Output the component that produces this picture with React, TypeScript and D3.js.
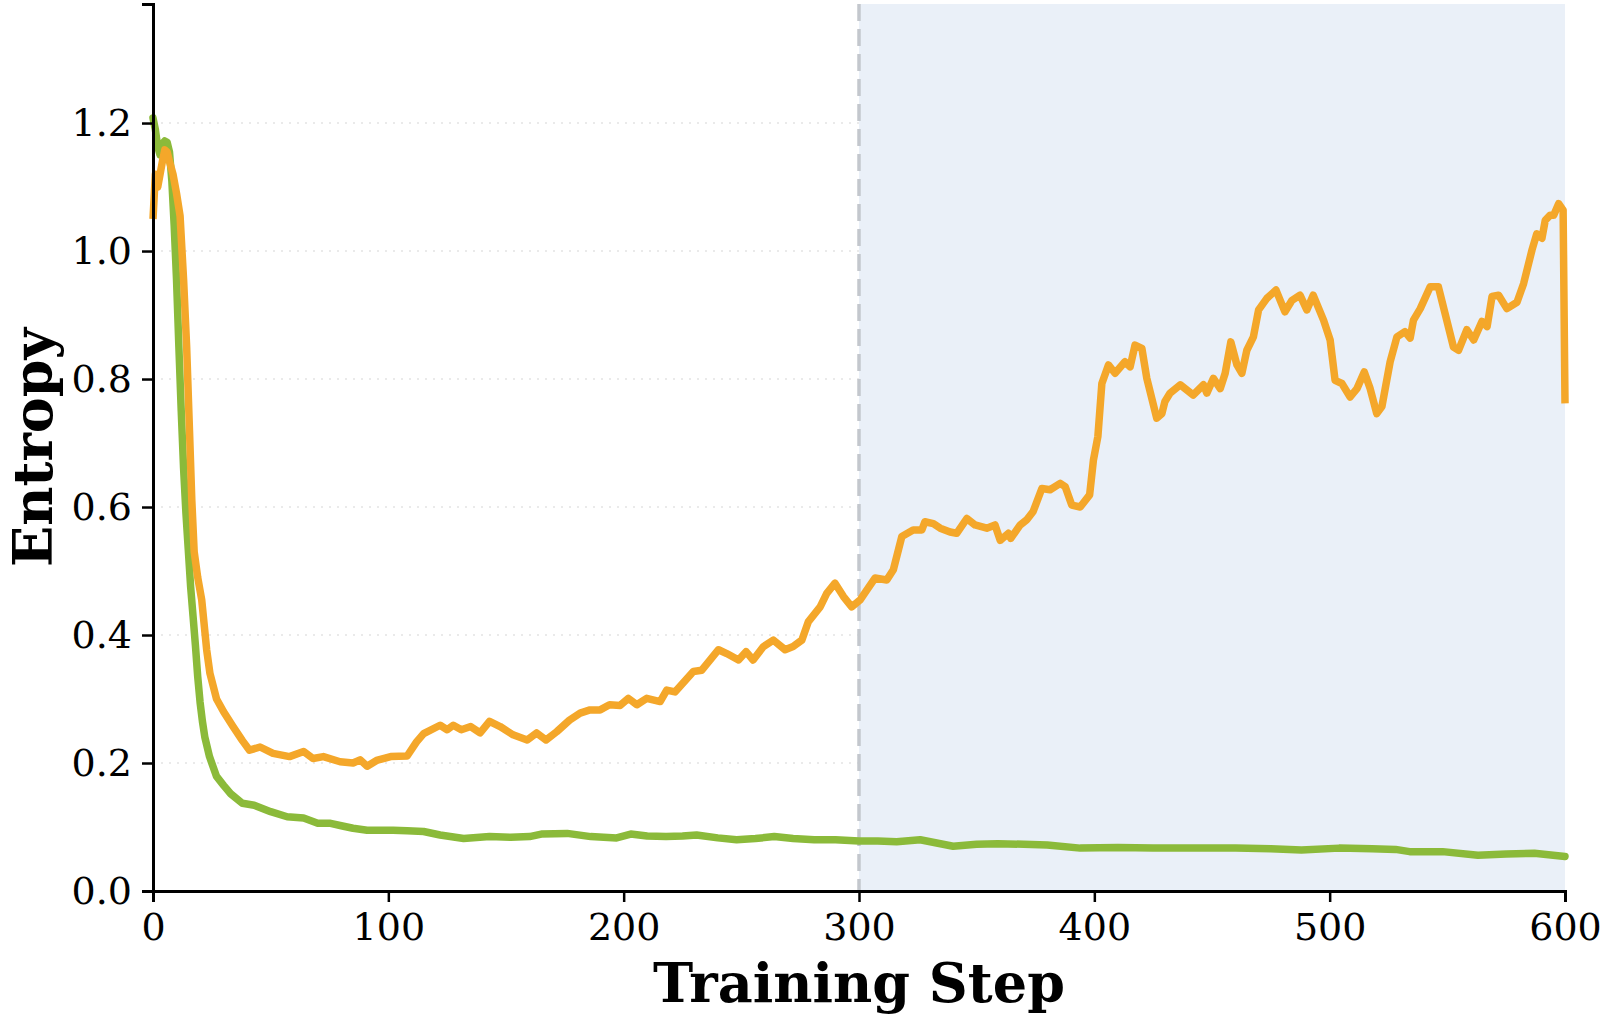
import { useEffect, useRef } from 'react'
import * as d3 from 'd3'

// step / entropy readings for the two runs
const orangeSteps = [0, 1, 2, 3, 4, 5, 6, 7, 8.5, 10, 11.5, 13, 14.3, 15.5, 16.5, 17.5, 19, 20.7, 22.8, 24.2, 27, 30, 34, 38, 41, 45.5, 51, 58, 64, 68, 72.4, 79.5, 85, 88, 91, 95, 101, 108, 112, 115, 122, 125, 127.6, 131, 135, 139, 143, 147.5, 153, 159, 163, 167, 171.6, 177, 181.5, 185.7, 190, 194, 198.5, 202, 205.6, 209.8, 215.5, 218.3, 221.8, 229.6, 233.2, 240.3, 243.8, 248.8, 252, 255, 259.4, 263.6, 268.6, 272, 275.7, 278.5, 283.5, 286.3, 289.8, 293.4, 296.9, 300.5, 303.3, 306.8, 311.8, 314.6, 318.2, 323, 326.7, 328, 331.6, 334.5, 338.7, 341.5, 345.8, 349.3, 354.3, 357.8, 360, 363.5, 364.5, 368.5, 371.3, 374, 377.7, 381.2, 385.5, 387.6, 390.4, 394, 398, 399.6, 401.5, 403.2, 406, 408.8, 413, 415.2, 417.3, 420.2, 422.3, 426.5, 428.7, 430, 432.2, 436.5, 442, 446.4, 447.8, 450.6, 453.5, 455.6, 458, 460.6, 462.7, 464.8, 467.6, 469.8, 473.3, 477.2, 481, 484, 487.4, 490.3, 493, 497.4, 500.2, 502.3, 505.2, 508.7, 511.6, 514.7, 517.2, 520, 522.2, 525.7, 528.6, 532, 534.2, 535.6, 538.5, 542.7, 546.2, 552.6, 554.8, 558.3, 561.2, 564.7, 566.9, 569, 571.8, 575.3, 579.6, 582.4, 586, 588, 590.2, 591.6, 593.7, 595.2, 597.3, 599.2, 600]
const orangeValues = [1.05, 1.12, 1.1, 1.12, 1.14, 1.158, 1.155, 1.14, 1.12, 1.09, 1.055, 0.955, 0.85, 0.72, 0.61, 0.53, 0.49, 0.455, 0.377, 0.34, 0.3, 0.28, 0.257, 0.235, 0.22, 0.225, 0.215, 0.21, 0.218, 0.207, 0.21, 0.202, 0.2, 0.205, 0.195, 0.204, 0.21, 0.211, 0.233, 0.246, 0.259, 0.252, 0.259, 0.252, 0.257, 0.247, 0.265, 0.257, 0.244, 0.236, 0.247, 0.236, 0.249, 0.267, 0.278, 0.283, 0.283, 0.291, 0.29, 0.301, 0.291, 0.301, 0.296, 0.314, 0.311, 0.343, 0.345, 0.377, 0.371, 0.361, 0.374, 0.361, 0.382, 0.392, 0.377, 0.382, 0.392, 0.421, 0.444, 0.465, 0.481, 0.46, 0.444, 0.455, 0.47, 0.489, 0.486, 0.502, 0.554, 0.564, 0.564, 0.577, 0.574, 0.567, 0.561, 0.559, 0.582, 0.572, 0.567, 0.572, 0.548, 0.559, 0.551, 0.572, 0.58, 0.593, 0.629, 0.627, 0.637, 0.632, 0.603, 0.6, 0.619, 0.673, 0.71, 0.793, 0.822, 0.809, 0.827, 0.819, 0.853, 0.848, 0.801, 0.739, 0.746, 0.765, 0.778, 0.791, 0.775, 0.791, 0.778, 0.801, 0.785, 0.809, 0.858, 0.822, 0.809, 0.845, 0.866, 0.908, 0.926, 0.939, 0.905, 0.923, 0.931, 0.908, 0.931, 0.892, 0.861, 0.798, 0.793, 0.772, 0.785, 0.811, 0.785, 0.746, 0.757, 0.827, 0.866, 0.874, 0.864, 0.892, 0.91, 0.944, 0.944, 0.85, 0.845, 0.877, 0.861, 0.89, 0.882, 0.929, 0.931, 0.91, 0.92, 0.949, 1.002, 1.027, 1.02, 1.048, 1.056, 1.056, 1.074, 1.064, 0.762]

const greenSteps = [0, 1, 2, 3, 4, 5, 6, 7, 8, 9, 10, 11, 12, 13, 14, 15, 16, 17, 18, 19, 20, 21, 22, 24, 27, 30, 33, 38, 43, 50, 57, 64, 70, 75, 80, 85, 91, 102, 108, 115, 122, 132, 143, 152, 160, 165, 176, 186, 197, 203, 210, 218, 225, 231, 240, 248, 256, 264, 272, 281, 290, 300, 308, 316, 326, 333, 340, 350, 359, 370, 380, 394, 410, 425, 440, 460, 475, 488, 504, 518, 528, 534, 548, 563, 575, 587, 600]
const greenValues = [1.208, 1.19, 1.163, 1.15, 1.168, 1.172, 1.17, 1.155, 1.11, 1.04, 0.955, 0.85, 0.75, 0.66, 0.59, 0.533, 0.475, 0.43, 0.385, 0.335, 0.295, 0.265, 0.241, 0.21, 0.179, 0.165, 0.152, 0.137, 0.134, 0.124, 0.116, 0.114, 0.106, 0.106, 0.102, 0.098, 0.095, 0.095, 0.094, 0.093, 0.0875, 0.082, 0.085, 0.084, 0.085, 0.089, 0.09, 0.085, 0.083, 0.089, 0.086, 0.085, 0.086, 0.0875, 0.083, 0.08, 0.082, 0.085, 0.082, 0.08, 0.08, 0.078, 0.078, 0.077, 0.08, 0.075, 0.07, 0.073, 0.074, 0.073, 0.072, 0.067, 0.068, 0.067, 0.067, 0.067, 0.066, 0.064, 0.067, 0.066, 0.065, 0.0615, 0.0615, 0.056, 0.058, 0.059, 0.054]

const xTicks = [0, 100, 200, 300, 400, 500, 600]
const yTicks = [0, 0.2, 0.4, 0.6, 0.8, 1.0, 1.2]
const phaseStart = 300

const FONT = '"DejaVu Serif", serif'

export default function App() {
  const svgRef = useRef<SVGSVGElement>(null)

  useEffect(() => {
    document.body.style.margin = '0'
    if (!svgRef.current) return
    const svg = d3.select(svgRef.current)
    svg.selectAll('*').remove()

    const width = 1604
    const height = 1019
    const margin = { top: 4, right: 39, bottom: 128, left: 153 }

    const x = d3.scaleLinear()
      .domain([0, 600])
      .range([margin.left, width - margin.right])
    const y = d3.scaleLinear()
      .domain([0, 1.386])
      .range([height - margin.bottom, margin.top])

    // dotted grid
    svg.append('g')
      .selectAll('line')
      .data(yTicks.slice(1))
      .join('line')
      .attr('x1', x(0))
      .attr('x2', x(600))
      .attr('y1', d => y(d))
      .attr('y2', d => y(d))
      .attr('stroke', '#e3e3e3')
      .attr('stroke-width', 1.5)
      .attr('stroke-dasharray', '2,6')

    // shaded second phase
    svg.append('rect')
      .attr('x', x(phaseStart))
      .attr('y', y(1.386))
      .attr('width', x(600) - x(phaseStart))
      .attr('height', y(0) - y(1.386))
      .attr('fill', '#eaf0f8')

    svg.append('line')
      .attr('x1', x(phaseStart))
      .attr('x2', x(phaseStart))
      .attr('y1', y(1.386))
      .attr('y2', y(0))
      .attr('stroke', '#c3c7cd')
      .attr('stroke-width', 3.5)
      .attr('stroke-dasharray', '17,8')

    const line = d3.line<[number, number]>()
      .x(d => x(d[0]))
      .y(d => y(d[1]))

    const greenData = greenSteps.map((s, i) => [s, greenValues[i]] as [number, number])
    const orangeData = orangeSteps.map((s, i) => [s, orangeValues[i]] as [number, number])

    svg.append('path')
      .datum(greenData)
      .attr('fill', 'none')
      .attr('stroke', '#8bba3a')
      .attr('stroke-width', 7.5)
      .attr('stroke-linejoin', 'round')
      .attr('stroke-linecap', 'round')
      .attr('d', line)

    svg.append('path')
      .datum(orangeData)
      .attr('fill', 'none')
      .attr('stroke', '#f4a72a')
      .attr('stroke-width', 7.5)
      .attr('stroke-linejoin', 'round')
      .attr('stroke-linecap', 'butt')
      .attr('d', line)

    // axes
    const xAxis = svg.append('g')
      .attr('transform', `translate(0, ${y(0)})`)
      .call(d3.axisBottom(x).tickValues(xTicks).tickSize(11).tickPadding(11).tickFormat(d => `${d}`))
    const yAxis = svg.append('g')
      .attr('transform', `translate(${x(0)}, 0)`)
      .call(d3.axisLeft(y).tickValues(yTicks).tickSize(11).tickPadding(10).tickFormat(d3.format('.1f')))

    for (const g of [xAxis, yAxis]) {
      g.select('.domain').attr('stroke', '#000').attr('stroke-width', 3)
      g.selectAll('.tick line').attr('stroke', '#000').attr('stroke-width', 2.5)
      g.selectAll('.tick text')
        .style('font-family', FONT)
        .style('font-size', '38px')
        .attr('fill', '#000')
    }

    svg.append('text')
      .attr('x', (x(0) + x(600)) / 2)
      .attr('y', 1002)
      .attr('text-anchor', 'middle')
      .style('font-family', FONT)
      .style('font-weight', 'bold')
      .style('font-size', '54px')
      .text('Training Step')

    svg.append('text')
      .attr('transform', `translate(52, ${(y(0) + y(1.386)) / 2}) rotate(-90)`)
      .attr('text-anchor', 'middle')
      .style('font-family', FONT)
      .style('font-weight', 'bold')
      .style('font-size', '54px')
      .text('Entropy')
  }, [])

  return (
    <div style={{ width: 1604, height: 1019, background: '#fff' }}>
      <svg ref={svgRef} width={1604} height={1019} style={{ display: 'block' }} />
    </div>
  )
}
